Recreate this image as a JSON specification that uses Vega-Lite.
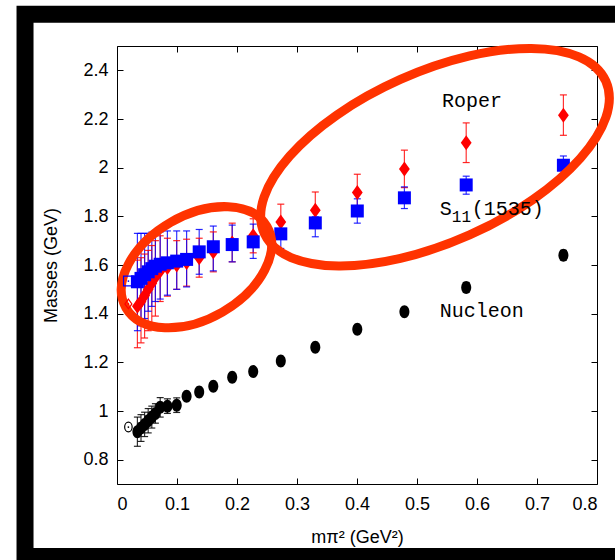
{
  "$schema": "https://vega.github.io/schema/vega-lite/v6.json",
  "width": 480,
  "height": 438,
  "autosize": {"type": "none"},
  "padding": {"left": 117, "top": 46, "right": 18, "bottom": 76},
  "background": "white",
  "config": {"view": {"stroke": null}, "font": "Liberation Sans"},
  "datasets": {
    "pts": [
      {"s":"R","x":0.034,"m":1.43,"lo":1.26,"hi":1.62},
      {"s":"R","x":0.040,"m":1.45,"lo":1.28,"hi":1.63},
      {"s":"R","x":0.046,"m":1.475,"lo":1.30,"hi":1.645},
      {"s":"R","x":0.052,"m":1.50,"lo":1.33,"hi":1.66},
      {"s":"R","x":0.058,"m":1.525,"lo":1.36,"hi":1.68},
      {"s":"R","x":0.064,"m":1.55,"lo":1.39,"hi":1.70},
      {"s":"R","x":0.072,"m":1.575,"lo":1.45,"hi":1.72},
      {"s":"R","x":0.084,"m":1.59,"lo":1.472,"hi":1.71},
      {"s":"R","x":0.0995,"m":1.60,"lo":1.50,"hi":1.70},
      {"s":"R","x":0.116,"m":1.61,"lo":1.513,"hi":1.706},
      {"s":"R","x":0.137,"m":1.63,"lo":1.55,"hi":1.71},
      {"s":"R","x":0.1605,"m":1.654,"lo":1.572,"hi":1.736},
      {"s":"R","x":0.192,"m":1.69,"lo":1.613,"hi":1.772},
      {"s":"R","x":0.227,"m":1.72,"lo":1.65,"hi":1.79},
      {"s":"R","x":0.273,"m":1.777,"lo":1.71,"hi":1.85},
      {"s":"R","x":0.3305,"m":1.825,"lo":1.75,"hi":1.90},
      {"s":"R","x":0.4005,"m":1.898,"lo":1.823,"hi":1.973},
      {"s":"R","x":0.479,"m":1.995,"lo":1.918,"hi":2.072},
      {"s":"R","x":0.582,"m":2.102,"lo":2.021,"hi":2.184},
      {"s":"R","x":0.744,"m":2.215,"lo":2.133,"hi":2.299},
      {"s":"S","x":0.034,"m":1.531,"lo":1.33,"hi":1.73},
      {"s":"S","x":0.040,"m":1.545,"lo":1.35,"hi":1.73},
      {"s":"S","x":0.046,"m":1.56,"lo":1.38,"hi":1.73},
      {"s":"S","x":0.052,"m":1.572,"lo":1.41,"hi":1.73},
      {"s":"S","x":0.058,"m":1.585,"lo":1.43,"hi":1.735},
      {"s":"S","x":0.064,"m":1.595,"lo":1.45,"hi":1.735},
      {"s":"S","x":0.072,"m":1.603,"lo":1.46,"hi":1.736},
      {"s":"S","x":0.084,"m":1.609,"lo":1.476,"hi":1.74},
      {"s":"S","x":0.0995,"m":1.616,"lo":1.50,"hi":1.74},
      {"s":"S","x":0.116,"m":1.623,"lo":1.51,"hi":1.74},
      {"s":"S","x":0.137,"m":1.654,"lo":1.562,"hi":1.746},
      {"s":"S","x":0.1605,"m":1.675,"lo":1.576,"hi":1.76},
      {"s":"S","x":0.192,"m":1.684,"lo":1.613,"hi":1.764},
      {"s":"S","x":0.227,"m":1.695,"lo":1.627,"hi":1.768},
      {"s":"S","x":0.273,"m":1.728,"lo":1.668,"hi":1.771},
      {"s":"S","x":0.3305,"m":1.773,"lo":1.716,"hi":1.798},
      {"s":"S","x":0.4005,"m":1.822,"lo":1.772,"hi":1.872},
      {"s":"S","x":0.479,"m":1.876,"lo":1.832,"hi":1.921},
      {"s":"S","x":0.582,"m":1.929,"lo":1.891,"hi":1.965},
      {"s":"S","x":0.744,"m":2.010,"lo":1.969,"hi":2.048},
      {"s":"N","x":0.034,"m":0.915,"lo":0.855,"hi":0.975},
      {"s":"N","x":0.040,"m":0.93,"lo":0.875,"hi":0.985},
      {"s":"N","x":0.046,"m":0.945,"lo":0.895,"hi":0.995},
      {"s":"N","x":0.052,"m":0.96,"lo":0.91,"hi":1.01},
      {"s":"N","x":0.058,"m":0.975,"lo":0.93,"hi":1.02},
      {"s":"N","x":0.064,"m":0.99,"lo":0.95,"hi":1.03},
      {"s":"N","x":0.072,"m":1.015,"lo":0.975,"hi":1.055},
      {"s":"N","x":0.084,"m":1.02,"lo":0.99,"hi":1.05},
      {"s":"N","x":0.0995,"m":1.024,"lo":0.994,"hi":1.054},
      {"s":"N","x":0.116,"m":1.061,"lo":1.051,"hi":1.071},
      {"s":"N","x":0.137,"m":1.078,"lo":1.068,"hi":1.088},
      {"s":"N","x":0.1605,"m":1.102,"lo":1.092,"hi":1.112},
      {"s":"N","x":0.192,"m":1.139,"lo":1.129,"hi":1.149},
      {"s":"N","x":0.227,"m":1.162,"lo":1.152,"hi":1.172},
      {"s":"N","x":0.273,"m":1.205,"lo":1.195,"hi":1.215},
      {"s":"N","x":0.3305,"m":1.262,"lo":1.252,"hi":1.272},
      {"s":"N","x":0.4005,"m":1.336,"lo":1.326,"hi":1.346},
      {"s":"N","x":0.479,"m":1.408,"lo":1.393,"hi":1.423},
      {"s":"N","x":0.582,"m":1.508,"lo":1.488,"hi":1.528},
      {"s":"N","x":0.744,"m":1.640,"lo":1.62,"hi":1.66},
      {"s":"R0","x":0.019,"m":1.44},
      {"s":"S0","x":0.019,"m":1.534},
      {"s":"N0","x":0.019,"m":0.934}
    ],
    "notes": [
      {"id":"a","x":0.1325,"y":1.591},
      {"id":"b","x":0.53,"y":2.043}
    ],
    "frame": [
      {"x0":-0.1533,"x1":0.86,"y0":2.63,"y1":0.402}
    ],
    "labels": [
      {"t":"Roper","x":0.5417,"y":2.273},
      {"t":"Nucleon","x":0.538,"y":1.41},
      {"t":"S","x":0.538,"y":1.829},
      {"t":"11","x":0.538,"y":1.829},
      {"t":"(1535)","x":0.538,"y":1.829}
    ]
  },
  "layer": [
    {
      "data": {"name": "frame"},
      "mark": {"type": "rect", "filled": false, "stroke": "black", "strokeWidth": 17, "opacity": 1},
      "encoding": {
        "x": {"field": "x0", "type": "quantitative", "axis": null},
        "x2": {"field": "x1"},
        "y": {"field": "y0", "type": "quantitative", "axis": null},
        "y2": {"field": "y1"}
      }
    },
    {
      "data": {"name": "pts"},
      "transform": [{"filter": "datum.lo != null"}],
      "mark": {"type": "rule", "strokeWidth": 1.2, "opacity": 0.8},
      "encoding": {
        "x": {"field": "x", "type": "quantitative", "axis": null},
        "y": {"field": "lo", "type": "quantitative", "axis": null},
        "y2": {"field": "hi"},
        "color": {"field": "s", "type": "nominal", "legend": null,
          "scale": {"domain": ["R","S","N","R0","S0","N0"], "range": ["#ff0000","#0000ff","#000000","#ff0000","#0000ff","#000000"]}}
      }
    },
    {
      "data": {"name": "pts"},
      "transform": [{"filter": "datum.lo != null"}],
      "mark": {"type": "tick", "orient": "horizontal", "size": 7, "thickness": 1.2, "opacity": 0.85},
      "encoding": {
        "x": {"field": "x", "type": "quantitative", "axis": null},
        "y": {"field": "lo", "type": "quantitative", "axis": null},
        "color": {"field": "s", "type": "nominal", "legend": null}
      }
    },
    {
      "data": {"name": "pts"},
      "transform": [{"filter": "datum.lo != null"}],
      "mark": {"type": "tick", "orient": "horizontal", "size": 7, "thickness": 1.2, "opacity": 0.85},
      "encoding": {
        "x": {"field": "x", "type": "quantitative", "axis": null},
        "y": {"field": "hi", "type": "quantitative", "axis": null},
        "color": {"field": "s", "type": "nominal", "legend": null}
      }
    },
    {
      "data": {"name": "pts"},
      "transform": [{"filter": "datum.s == 'R'"}],
      "mark": {"type": "point", "shape": "M0,-1L0.72,0L0,1L-0.72,0Z", "size": 225, "filled": true, "color": "#ff0000", "opacity": 1},
      "encoding": {
        "x": {"field": "x", "type": "quantitative", "axis": null},
        "y": {"field": "m", "type": "quantitative", "axis": null}
      }
    },
    {
      "data": {"name": "pts"},
      "transform": [{"filter": "datum.s == 'S'"}],
      "mark": {"type": "point", "shape": "square", "size": 169, "filled": true, "color": "#0000ff", "opacity": 1},
      "encoding": {
        "x": {"field": "x", "type": "quantitative", "axis": null},
        "y": {"field": "m", "type": "quantitative", "axis": null}
      }
    },
    {
      "data": {"name": "pts"},
      "transform": [{"filter": "datum.s == 'N'"}],
      "mark": {"type": "point", "shape": "M -0.77 0 C -0.77 -0.5523 -0.4253 -1 0 -1 C 0.4253 -1 0.77 -0.5523 0.77 0 C 0.77 0.5523 0.4253 1 0 1 C -0.4253 1 -0.77 0.5523 -0.77 0 Z", "size": 169, "filled": true, "color": "#000000", "opacity": 1},
      "encoding": {
        "x": {"field": "x", "type": "quantitative",
          "scale": {"domain": [0, 0.8], "nice": false, "zero": false},
          "axis": {"orient": "bottom", "values": [0,0.1,0.2,0.3,0.4,0.5,0.6,0.7,0.8], "format": "~g", "grid": false,
            "tickSize": -6, "tickColor": "black", "domainColor": "black", "labelColor": "black",
            "labelFont": "Liberation Sans", "labelFontSize": 18, "labelPadding": 17,
            "title": "mπ² (GeV²)", "titleFont": "Liberation Sans", "titleFontSize": 18, "titleFontWeight": "normal", "titleColor": "black", "titlePadding": 15}},
        "y": {"field": "m", "type": "quantitative",
          "scale": {"domain": [0.7, 2.5], "nice": false, "zero": false},
          "axis": {"orient": "left", "values": [0.8,1,1.2,1.4,1.6,1.8,2,2.2,2.4], "format": "~g", "grid": false,
            "tickSize": -6, "tickColor": "black", "domainColor": "black", "labelColor": "black",
            "labelFont": "Liberation Sans", "labelFontSize": 18, "labelPadding": 15,
            "title": "Masses (GeV)", "titleFont": "Liberation Sans", "titleFontSize": 18, "titleFontWeight": "normal", "titleColor": "black", "titlePadding": 22}}
      }
    },
    {
      "data": {"name": "notes"},
      "transform": [{"filter": "datum.id == 'a'"}],
      "mark": {"type": "point", "shape": "M -1 0 C -1 -0.3513 -0.5523 -0.636 0 -0.636 C 0.5523 -0.636 1 -0.3513 1 0 C 1 0.3513 0.5523 0.636 0 0.636 C -0.5523 0.636 -1 0.3513 -1 0 Z",
        "size": 26504, "angle": 330, "filled": false, "color": "#ff3300", "strokeWidth": 9, "opacity": 1},
      "encoding": {
        "x": {"field": "x", "type": "quantitative",
          "axis": {"orient": "top", "values": [0,0.1,0.2,0.3,0.4,0.5,0.6,0.7,0.8], "labels": false, "grid": false, "tickSize": -6, "tickColor": "black", "domainColor": "black", "title": null}},
        "y": {"field": "y", "type": "quantitative",
          "axis": {"orient": "right", "values": [0.8,1,1.2,1.4,1.6,1.8,2,2.2,2.4], "labels": false, "grid": false, "tickSize": -6, "tickColor": "black", "domainColor": "black", "title": null}}
      }
    },
    {
      "data": {"name": "notes"},
      "transform": [{"filter": "datum.id == 'b'"}],
      "mark": {"type": "point", "shape": "M -1 0 C -1 -0.2513 -0.5523 -0.455 0 -0.455 C 0.5523 -0.455 1 -0.2513 1 0 C 1 0.2513 0.5523 0.455 0 0.455 C -0.5523 0.455 -1 0.2513 -1 0 Z",
        "size": 139876, "angle": 336, "filled": false, "color": "#ff3300", "strokeWidth": 9, "opacity": 1},
      "encoding": {
        "x": {"field": "x", "type": "quantitative", "axis": null},
        "y": {"field": "y", "type": "quantitative", "axis": null}
      }
    },
    {
      "data": {"name": "pts"},
      "transform": [{"filter": "datum.lo == null"}],
      "mark": {"type": "point", "size": 95, "filled": false, "strokeWidth": 1.2, "opacity": 1},
      "encoding": {
        "x": {"field": "x", "type": "quantitative", "axis": null},
        "y": {"field": "m", "type": "quantitative", "axis": null},
        "color": {"field": "s", "type": "nominal", "legend": null},
        "shape": {"field": "s", "type": "nominal", "legend": null,
          "scale": {"domain": ["R0","S0","N0"], "range": ["M0,-1L0.72,0L0,1L-0.72,0Z", "square", "M -0.77 0 C -0.77 -0.5523 -0.4253 -1 0 -1 C 0.4253 -1 0.77 -0.5523 0.77 0 C 0.77 0.5523 0.4253 1 0 1 C -0.4253 1 -0.77 0.5523 -0.77 0 Z"]}}
      }
    },
    {
      "data": {"name": "pts"},
      "transform": [{"filter": "datum.lo == null"}],
      "mark": {"type": "point", "shape": "circle", "size": 3, "filled": true, "opacity": 1},
      "encoding": {
        "x": {"field": "x", "type": "quantitative", "axis": null},
        "y": {"field": "m", "type": "quantitative", "axis": null},
        "color": {"field": "s", "type": "nominal", "legend": null}
      }
    },
    {
      "data": {"name": "labels"},
      "transform": [{"filter": "datum.t == 'Roper' || datum.t == 'Nucleon' || datum.t == 'S'"}],
      "mark": {"type": "text", "align": "left", "baseline": "middle", "font": "Liberation Mono", "fontSize": 20, "color": "black"},
      "encoding": {
        "x": {"field": "x", "type": "quantitative", "axis": null},
        "y": {"field": "y", "type": "quantitative", "axis": null},
        "text": {"field": "t"}
      }
    },
    {
      "data": {"name": "labels"},
      "transform": [{"filter": "datum.t == '11'"}],
      "mark": {"type": "text", "align": "left", "baseline": "middle", "font": "Liberation Mono", "fontSize": 16, "color": "black", "dx": 12, "dy": 8},
      "encoding": {
        "x": {"field": "x", "type": "quantitative", "axis": null},
        "y": {"field": "y", "type": "quantitative", "axis": null},
        "text": {"field": "t"}
      }
    },
    {
      "data": {"name": "labels"},
      "transform": [{"filter": "datum.t == '(1535)'"}],
      "mark": {"type": "text", "align": "left", "baseline": "middle", "font": "Liberation Mono", "fontSize": 20, "color": "black", "dx": 32},
      "encoding": {
        "x": {"field": "x", "type": "quantitative", "axis": null},
        "y": {"field": "y", "type": "quantitative", "axis": null},
        "text": {"field": "t"}
      }
    }
  ],
  "resolve": {"axis": {"x": "independent", "y": "independent"}}
}
